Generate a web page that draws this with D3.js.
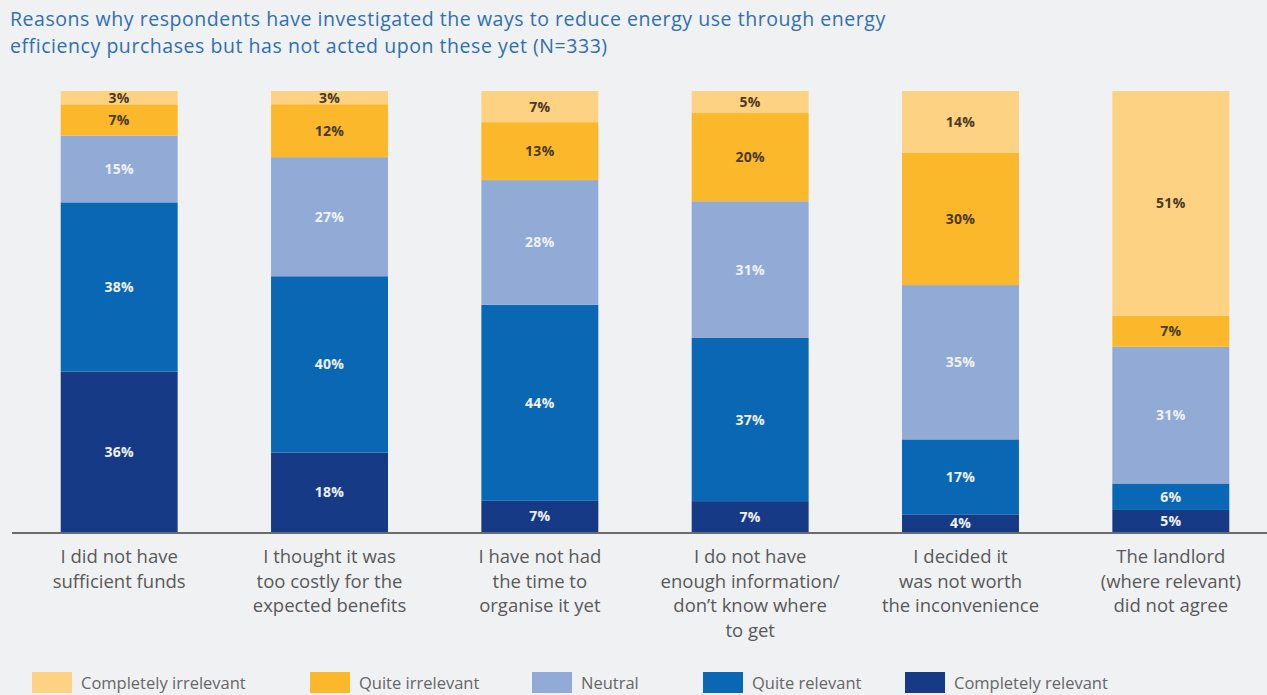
<!DOCTYPE html>
<html>
<head>
<meta charset="utf-8">
<script src="https://cdn.jsdelivr.net/npm/d3@7"></script>
<style>
  html, body { margin: 0; padding: 0; background: #f0f1f3; }
  svg { display: block; }
</style>
</head>
<body>
<svg id="chart" width="1267" height="695"></svg>
<script>
// Reasons (one bar each), split into display lines
const categories = [
  ["I did not have", "sufficient funds"],
  ["I thought it was", "too costly for the", "expected benefits"],
  ["I have not had", "the time to", "organise it yet"],
  ["I do not have", "enough information/", "don\u2019t know where", "to get"],
  ["I decided it", "was not worth", "the inconvenience"],
  ["The landlord", "(where relevant)", "did not agree"]
];

// Response levels, stacked from the baseline upward
const levels = ["Completely relevant", "Quite relevant", "Neutral", "Quite irrelevant", "Completely irrelevant"];

// Share of respondents (%) per level, one value per reason
const completelyRelevant   = [36, 18,  7,  7,  4,  5];
const quiteRelevant        = [38, 40, 44, 37, 17,  6];
const neutral              = [15, 27, 28, 31, 35, 31];
const quiteIrrelevant      = [ 7, 12, 13, 20, 30,  7];
const completelyIrrelevant = [ 3,  3,  7,  5, 14, 51];

// Legend order, left to right
const legendOrder = ["Completely irrelevant", "Quite irrelevant", "Neutral", "Quite relevant", "Completely relevant"];

const titleLines = [
  "Reasons why respondents have investigated the ways to reduce energy use through energy",
  "efficiency purchases but has not acted upon these yet (N=333)"
];

const colors = {
  "Completely irrelevant": "#fdd283",
  "Quite irrelevant": "#fbb82b",
  "Neutral": "#91abd6",
  "Quite relevant": "#0a67b3",
  "Completely relevant": "#163a86"
};
const labelColors = {
  "Completely irrelevant": "#4b3a1e",
  "Quite irrelevant": "#4b3a1e",
  "Neutral": "#eef2fa",
  "Quite relevant": "#eef2fa",
  "Completely relevant": "#eef2fa"
};

const seriesValues = [completelyRelevant, quiteRelevant, neutral, quiteIrrelevant, completelyIrrelevant];
const rows = categories.map((c, i) => {
  const r = { idx: i };
  levels.forEach((k, j) => { r[k] = seriesValues[j][i]; });
  return r;
});

const W = 1267, H = 695;
const svg = d3.select("#chart");

svg.append("rect").attr("width", W).attr("height", H).attr("fill", "#f0f1f3");

// Title
svg.append("g")
  .selectAll("text")
  .data(titleLines)
  .join("text")
  .attr("x", 10)
  .attr("y", (d, i) => 26 + i * 27)
  .attr("font-family", "'Open Sans', sans-serif")
  .attr("font-size", 19.5)
  .attr("letter-spacing", 0.55)
  .attr("fill", "#2f6fb3")
  .text(d => d);

const x = d3.scaleBand()
  .domain(rows.map(r => r.idx))
  .range([12, 1278])
  .paddingInner(0.444)
  .paddingOuter(0.2316);

const y = d3.scaleLinear().domain([0, 1]).range([532, 91]);

const stacked = d3.stack().keys(levels).offset(d3.stackOffsetExpand)(rows);

const layers = svg.append("g")
  .selectAll("g")
  .data(stacked)
  .join("g")
  .attr("fill", d => colors[d.key]);

layers.selectAll("rect")
  .data(d => d)
  .join("rect")
  .attr("x", d => x(d.data.idx))
  .attr("width", x.bandwidth())
  .attr("y", d => y(d[1]))
  .attr("height", d => y(d[0]) - y(d[1]));

// Value labels centred in each segment
const labels = svg.append("g")
  .attr("font-family", "'Open Sans', sans-serif")
  .attr("font-size", 14)
  .attr("font-weight", "bold")
  .attr("letter-spacing", 0.3)
  .attr("text-anchor", "middle");

stacked.forEach(layer => {
  labels.selectAll(null)
    .data(layer)
    .join("text")
    .attr("x", d => x(d.data.idx) + x.bandwidth() / 2)
    .attr("y", d => (y(d[0]) + y(d[1])) / 2)
    .attr("dy", "0.36em")
    .attr("fill", labelColors[layer.key])
    .text(d => d.data[layer.key] + "%");
});

// Baseline
svg.append("line")
  .attr("x1", 12).attr("x2", W)
  .attr("y1", 533).attr("y2", 533)
  .attr("stroke", "#6b6b6b")
  .attr("stroke-width", 2);

// Category labels
const cat = svg.append("g")
  .attr("font-family", "'Open Sans', sans-serif")
  .attr("font-size", 18.5)
  .attr("fill", "#595959")
  .attr("text-anchor", "middle");

cat.selectAll("text")
  .data(rows)
  .join("text")
  .attr("transform", d => `translate(${x(d.idx) + x.bandwidth() / 2},0)`)
  .selectAll("tspan")
  .data(d => categories[d.idx])
  .join("tspan")
  .attr("x", 0)
  .attr("y", (d, i) => 563 + i * 24.5)
  .text(d => d);

// Legend
const legend = svg.append("g")
  .attr("font-family", "'Open Sans', sans-serif")
  .attr("font-size", 16.5)
  .attr("fill", "#666");

const legendX = [32, 310, 532, 703, 905];
legendOrder.forEach((k, i) => {
  const g = legend.append("g").attr("transform", `translate(${legendX[i]},672)`);
  g.append("rect").attr("width", 40).attr("height", 21).attr("fill", colors[k]);
  g.append("text").attr("x", 49).attr("y", 16.5).text(k);
});
</script>
</body>
</html>
